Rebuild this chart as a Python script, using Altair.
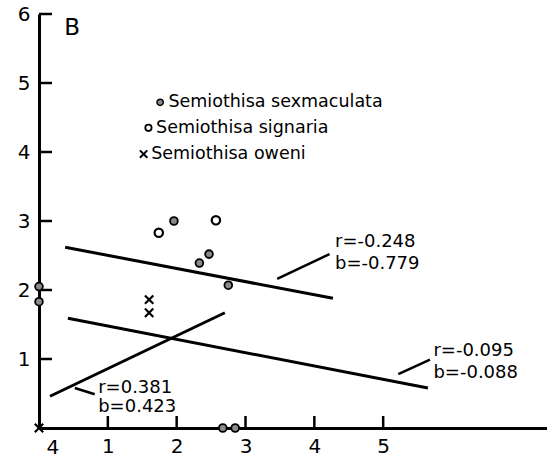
import altair as alt
import pandas as pd

# Observations per species
sex_x = [1.96, 2.47, 2.33, 2.75, 0.0, 0.0, 2.67, 2.85]
sex_y = [3.00, 2.52, 2.39, 2.07, 2.05, 1.83, 0.0, 0.0]
sig_x = [1.74, 2.57]
sig_y = [2.83, 3.01]
owe_x = [1.60, 1.60, 0.0]
owe_y = [1.86, 1.67, 0.0]

# Fitted regression lines (start/end)
fit_id = ["sexmaculata", "signaria", "oweni"]
fit_x0 = [0.38, 0.42, 0.16]
fit_y0 = [2.62, 1.59, 0.46]
fit_x1 = [4.27, 5.65, 2.70]
fit_y1 = [1.88, 0.58, 1.67]

# Statistic labels and their leader lines
stat_r = ["r=-0.248", "r=-0.095", "r=0.381"]
stat_b = ["b=-0.779", "b=-0.088", "b=0.423"]
stat_x = [4.30, 5.73, 0.86]
stat_ry = [2.70, 1.12, 0.58]
stat_by = [2.38, 0.80, 0.30]
lead_x0 = [3.46, 5.22, 0.52]
lead_y0 = [2.16, 0.78, 0.58]
lead_x1 = [4.22, 5.68, 0.81]
lead_y1 = [2.52, 0.99, 0.49]

# Legend entries
leg_names = ["Semiothisa sexmaculata", "Semiothisa signaria", "Semiothisa oweni"]
leg_mx = [1.76, 1.59, 1.52]
leg_tx = [1.88, 1.70, 1.63]
leg_y = [4.72, 4.35, 3.97]

x_ticks = [1, 2, 3, 4, 5]
y_ticks = [1, 2, 3, 4, 5, 6]

FONT = "DejaVu Sans"
XMAX = 7.38
xs = alt.Scale(domain=[0, XMAX], nice=False, zero=False)
ys = alt.Scale(domain=[0, 6], nice=False, zero=False)

X_PATH = "M-1,-1L1,1M1,-1L-1,1"
# one-sided stroke symbols used as inward-pointing axis ticks
TICK_RIGHT = "M0,0L1,0"
TICK_UP = "M0,0L0,-1"

sex = pd.DataFrame({"x": sex_x, "y": sex_y})
sig = pd.DataFrame({"x": sig_x, "y": sig_y})
owe = pd.DataFrame({"x": owe_x, "y": owe_y})
fits = pd.DataFrame({"id": fit_id, "x": fit_x0, "y": fit_y0, "x2": fit_x1, "y2": fit_y1})
stats = pd.DataFrame({"r": stat_r, "b": stat_b, "x": stat_x, "ry": stat_ry, "by": stat_by})
leads = pd.DataFrame({"x": lead_x0, "y": lead_y0, "x2": lead_x1, "y2": lead_y1})
leg = pd.DataFrame({"name": leg_names, "mx": leg_mx, "tx": leg_tx, "y": leg_y})
ytk = pd.DataFrame({"x": [0.0] * len(y_ticks), "y": [float(v) for v in y_ticks]})
xtk = pd.DataFrame({"x": [float(v) for v in x_ticks], "y": [0.0] * len(x_ticks)})

xaxis = alt.Axis(values=x_ticks, format="d", ticks=False, grid=False, title=None,
                 domainColor="black", domainWidth=3, labelFont=FONT, labelFontSize=20,
                 labelColor="black", labelPadding=8)
yaxis = alt.Axis(values=y_ticks, format="d", ticks=False, grid=False, title=None,
                 domainColor="black", domainWidth=3, labelFont=FONT, labelFontSize=20,
                 labelColor="black", labelPadding=9)

base = alt.Chart(pd.DataFrame({"x": [0, XMAX], "y": [0, 6]})).mark_point(opacity=0).encode(
    x=alt.X("x:Q", scale=xs, axis=xaxis),
    y=alt.Y("y:Q", scale=ys, axis=yaxis),
)

ytick_marks = alt.Chart(ytk).mark_point(shape=TICK_RIGHT, filled=False, stroke="black",
                                         strokeWidth=2.5, size=676, opacity=1).encode(
    x=alt.X("x:Q", scale=xs), y=alt.Y("y:Q", scale=ys)
)
xtick_marks = alt.Chart(xtk).mark_point(shape=TICK_UP, filled=False, stroke="black",
                                         strokeWidth=2.5, size=576, opacity=1).encode(
    x=alt.X("x:Q", scale=xs), y=alt.Y("y:Q", scale=ys)
)

origin_lbl = alt.Chart(pd.DataFrame({"x": [0.2], "y": [0], "t": ["4"]})).mark_text(
    font=FONT, fontSize=20, color="black", baseline="top", dy=10
).encode(x=alt.X("x:Q", scale=xs), y=alt.Y("y:Q", scale=ys), text="t:N")

fit_lines = alt.Chart(fits).mark_rule(color="black", strokeWidth=3).encode(
    x=alt.X("x:Q", scale=xs), y=alt.Y("y:Q", scale=ys), x2="x2:Q", y2="y2:Q"
)
lead_lines = alt.Chart(leads).mark_rule(color="black", strokeWidth=2.5).encode(
    x=alt.X("x:Q", scale=xs), y=alt.Y("y:Q", scale=ys), x2="x2:Q", y2="y2:Q"
)

sex_pts = alt.Chart(sex).mark_point(shape="circle", filled=True, fill="#8a8a8a",
                                     stroke="black", strokeWidth=1.8, size=60, opacity=1).encode(
    x=alt.X("x:Q", scale=xs), y=alt.Y("y:Q", scale=ys)
)
sig_pts = alt.Chart(sig).mark_point(shape="circle", filled=False, stroke="black",
                                     strokeWidth=2.2, size=70, opacity=1).encode(
    x=alt.X("x:Q", scale=xs), y=alt.Y("y:Q", scale=ys)
)
owe_pts = alt.Chart(owe).mark_point(shape=X_PATH, filled=False, stroke="black",
                                     strokeWidth=2.2, size=70, opacity=1).encode(
    x=alt.X("x:Q", scale=xs), y=alt.Y("y:Q", scale=ys)
)

r_txt = alt.Chart(stats).mark_text(font=FONT, fontSize=18, align="left", color="black").encode(
    x=alt.X("x:Q", scale=xs), y=alt.Y("ry:Q", scale=ys), text="r:N"
)
b_txt = alt.Chart(stats).mark_text(font=FONT, fontSize=18, align="left", color="black").encode(
    x=alt.X("x:Q", scale=xs), y=alt.Y("by:Q", scale=ys), text="b:N"
)

leg_sex = alt.Chart(leg.iloc[[0]]).mark_point(shape="circle", filled=True, fill="#8a8a8a",
                                               stroke="black", strokeWidth=1.5, size=40, opacity=1).encode(
    x=alt.X("mx:Q", scale=xs), y=alt.Y("y:Q", scale=ys)
)
leg_sig = alt.Chart(leg.iloc[[1]]).mark_point(shape="circle", filled=False, stroke="black",
                                               strokeWidth=1.8, size=40, opacity=1).encode(
    x=alt.X("mx:Q", scale=xs), y=alt.Y("y:Q", scale=ys)
)
leg_owe = alt.Chart(leg.iloc[[2]]).mark_point(shape=X_PATH, filled=False, stroke="black",
                                               strokeWidth=2, size=55, opacity=1).encode(
    x=alt.X("mx:Q", scale=xs), y=alt.Y("y:Q", scale=ys)
)
leg_txt = alt.Chart(leg).mark_text(font=FONT, fontSize=17.5, align="left", color="black").encode(
    x=alt.X("tx:Q", scale=xs), y=alt.Y("y:Q", scale=ys), text="name:N"
)

panel = alt.Chart(pd.DataFrame({"x": [0.48], "y": [5.8], "t": ["B"]})).mark_text(
    font=FONT, fontSize=23, color="black", align="center"
).encode(x=alt.X("x:Q", scale=xs), y=alt.Y("y:Q", scale=ys), text="t:N")

chart = alt.layer(
    base, ytick_marks, xtick_marks, origin_lbl, fit_lines, lead_lines,
    sex_pts, sig_pts, owe_pts, r_txt, b_txt, leg_sex, leg_sig, leg_owe, leg_txt, panel
).properties(
    width=508, height=414,
    autosize=alt.AutoSizeParams(type="none"),
    padding={"left": 39, "top": 14, "right": 0, "bottom": 37},
    background="white",
).configure_view(stroke=None)

chart.save("out.html", embed_options={"renderer": "svg", "actions": False})
